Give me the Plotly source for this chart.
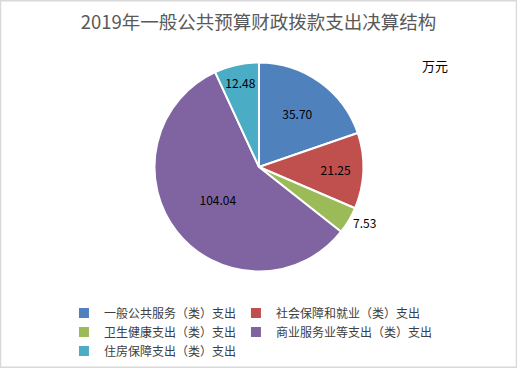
import plotly.graph_objects as go

categories = ["一般公共服务（类）支出", "社会保障和就业（类）支出", "卫生健康支出（类）支出",
              "商业服务业等支出（类）支出", "住房保障支出（类）支出"]
values = [35.70, 21.25, 7.53, 104.04, 12.48]
colors = ["#4F81BD", "#C0504D", "#9BBB59", "#8064A2", "#4BACC6"]
label_pos = ["inside", "inside", "outside", "inside", "inside"]

FONT = "Noto Sans CJK SC"

fig = go.Figure(go.Pie(
    labels=categories,
    values=values,
    sort=False,
    direction="clockwise",
    rotation=0,
    marker=dict(colors=colors, line=dict(color="white", width=2)),
    texttemplate=["%{value:.2f}"] * len(values),
    textinfo="value",
    textposition=label_pos,
    insidetextorientation="horizontal",
    textfont=dict(family=FONT, size=12, color="#000000"),
    domain=dict(x=[0.2988, 0.7031], y=[0.2622, 0.8302]),
    hole=0,
))

fig.update_layout(
    width=517, height=368,
    margin=dict(l=0, r=0, t=0, b=0),
    paper_bgcolor="white",
    plot_bgcolor="white",
    font=dict(family=FONT, color="#404040"),
    title=dict(text="2019年一般公共预算财政拨款支出决算结构", x=0.5, xanchor="center",
               y=0.94, yanchor="middle", font=dict(family=FONT, size=18.5, color="#595959")),
    showlegend=True,
    legend=dict(orientation="h", x=0.13, xanchor="left", y=0.189, yanchor="top",
                entrywidth=127, entrywidthmode="pixels",
                font=dict(family=FONT, size=12, color="#404040"),
                itemwidth=30, tracegroupgap=0, traceorder="normal"),
    annotations=[dict(text="万元", x=0.841, y=0.821, xref="paper", yref="paper",
                      xanchor="center", yanchor="middle",
                      showarrow=False, font=dict(family=FONT, size=13, color="#000000"))],
    shapes=[dict(type="rect", xref="paper", yref="paper", x0=0.001, y0=0.002, x1=0.999, y1=0.998,
                 line=dict(color="#D9D9D9", width=1.5))],
)

post = (
    "document.body.style.margin='0';document.body.style.overflow='hidden';"
    "document.querySelectorAll('.legend .scrollbox, .legend').forEach(function(e){e.removeAttribute('clip-path');});"
)
fig.write_html("out.html", config={"displayModeBar": False}, post_script=post)
